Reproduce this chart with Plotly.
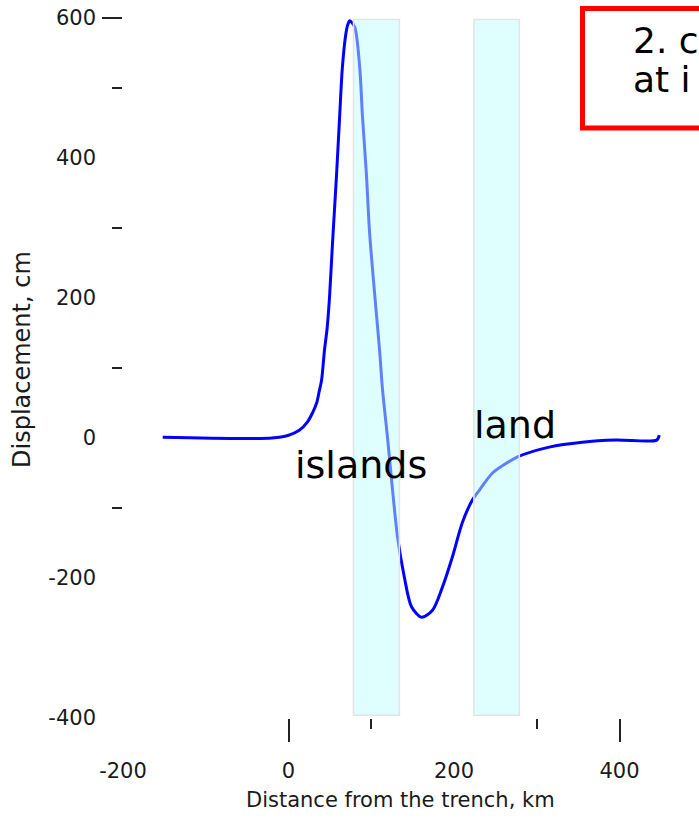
import plotly.graph_objects as go

# ---- data ----
dist_km = [-152, -20, 0, 13, 23, 29, 34, 37, 40, 43.5, 46.5, 49.5, 53, 58, 61.6, 65,
           69, 71.5, 74, 80, 86, 89.4, 94, 98, 104, 110, 113.6, 119.6, 125.7, 131.7,
           140, 148.6, 160.7, 174, 186, 198, 210, 222, 231, 246.5, 263.4, 276.7,
           315, 355, 396, 445, 448]
disp_cm = [1, 0, 4, 11, 23, 36, 50, 66, 83, 126, 155, 200, 275, 375, 455, 528,
           575, 590, 596, 587, 530, 459, 379, 293, 207, 126, 69, 1, -74, -141,
           -199, -241, -256, -246, -213, -170, -121, -89, -74, -50, -36, -27,
           -13, -6, -3, -3, 4]

island_band = [78.5, 134]
land_band = [224, 279]
band_y = [-396, 598]

x_label_vals = [-200, 0, 200, 400]
x_label_text = ["-200", "0", "200", "400"]
x_long_ticks = [0, 400]
x_short_ticks = [100, 300]
y_label_vals = [600, 400, 200, 0, -200, -400]
y_label_text = ["600", "400", "200", "0", "-200", "-400"]
y_long_ticks = [600]
y_short_ticks = [500, 300, 100, -100]

x_range = [-200, 490]
y_range = [-400, 600]

FONT = "DejaVu Sans"
TXT = "#1a1a1a"

fig = go.Figure()
fig.add_trace(go.Scatter(
    x=dist_km, y=disp_cm, mode="lines",
    line=dict(color="#0000ff", width=3, shape="spline", smoothing=0.8),
    showlegend=False, hoverinfo="skip"))
# empty trace to host the overlay tick-mark axes
fig.add_trace(go.Scatter(x=[], y=[], xaxis="x2", yaxis="y2", showlegend=False))

for band in (island_band, land_band):
    fig.add_shape(type="rect", xref="x", yref="y",
                  x0=band[0], x1=band[1], y0=band_y[0], y1=band_y[1],
                  fillcolor="rgba(192,255,255,0.5)",
                  line=dict(color="#e4e4e4", width=1.5), layer="above")

fig.add_annotation(x=88, y=-39, xref="x", yref="y", text="islands", showarrow=False,
                   font=dict(family=FONT, size=38, color="#000"), xanchor="center", yanchor="middle")
fig.add_annotation(x=274, y=19, xref="x", yref="y", text="land", showarrow=False,
                   font=dict(family=FONT, size=38, color="#000"), xanchor="center", yanchor="middle")

# red boxed note (cut by the right page edge)
fig.add_shape(type="rect", xref="paper", yref="paper",
              x0=(582.5 - 123) / 571, x1=1.2, y0=(718 - 128) / 700, y1=(718 - 8.5) / 700,
              line=dict(color="#ff0000", width=5), fillcolor="rgba(0,0,0,0)", layer="above")
fig.add_annotation(x=(631 - 123) / 571, y=(718 - 41) / 700, xref="paper", yref="paper",
                   text="2. c", showarrow=False, xanchor="left", yanchor="middle",
                   font=dict(family=FONT, size=36, color="#000"))
fig.add_annotation(x=(631 - 123) / 571, y=(718 - 80) / 700, xref="paper", yref="paper",
                   text="at i", showarrow=False, xanchor="left", yanchor="middle",
                   font=dict(family=FONT, size=36, color="#000"))

# axis titles
fig.add_annotation(x=(22 - 123) / 571, y=(718 - 360) / 700, xref="paper", yref="paper",
                   text="Displacement, cm", textangle=-90, showarrow=False,
                   xanchor="center", yanchor="middle",
                   font=dict(family=FONT, size=24, color=TXT))
fig.add_annotation(x=(400 - 123) / 571, y=(718 - 800) / 700, xref="paper", yref="paper",
                   text="Distance from the trench, km", showarrow=False,
                   xanchor="center", yanchor="middle",
                   font=dict(family=FONT, size=21, color=TXT))

fig.update_layout(
    width=699, height=819,
    margin=dict(l=123, r=699 - 123 - 571, t=18, b=101),
    paper_bgcolor="white", plot_bgcolor="white",
    showlegend=False,
    xaxis=dict(range=x_range, tickvals=x_label_vals, ticktext=x_label_text, ticks="",
               showgrid=False, zeroline=False, showline=False, automargin=False,
               ticklabelstandoff=38,
               tickfont=dict(family=FONT, size=21, color=TXT),
               minor=dict(tickvals=x_short_ticks, ticks="outside", ticklen=10,
                          tickwidth=2, tickcolor="#222", showgrid=False)),
    yaxis=dict(range=y_range, tickvals=y_label_vals, ticktext=y_label_text, ticks="",
               showgrid=False, zeroline=False, showline=False, automargin=False,
               ticklabelstandoff=26,
               tickfont=dict(family=FONT, size=21, color=TXT),
               minor=dict(tickvals=y_short_ticks, ticks="outside", ticklen=10,
                          tickwidth=2, tickcolor="#222", showgrid=False)),
    xaxis2=dict(range=x_range, overlaying="x", anchor="y2", side="bottom",
                tickvals=x_long_ticks, ticks="outside", ticklen=23, tickwidth=2,
                tickcolor="#222", showticklabels=False, showgrid=False,
                zeroline=False, showline=False),
    yaxis2=dict(range=y_range, overlaying="y", anchor="x2", side="left",
                tickvals=y_long_ticks, ticks="outside", ticklen=20, tickwidth=2,
                tickcolor="#222", showticklabels=False, showgrid=False,
                zeroline=False, showline=False),
)

fig.write_html("out.html")
